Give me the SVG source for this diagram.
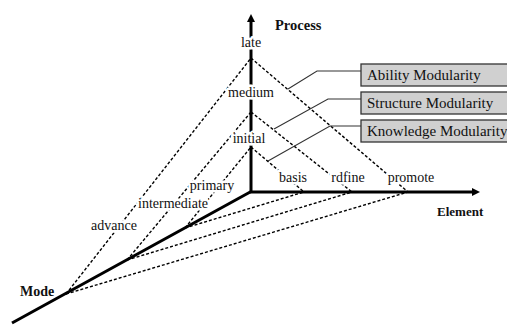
<svg xmlns="http://www.w3.org/2000/svg" width="507" height="325" viewBox="0 0 507 325">
<style>
.dash{stroke:#000;stroke-width:1.4;stroke-dasharray:3 2;fill:none}
.axis{stroke:#000;stroke-width:3;fill:none}
.lead{stroke:#333;stroke-width:1.1;fill:none}
.lbl{font-family:"Liberation Serif",serif;font-size:14px;fill:#111;text-anchor:middle;stroke:#fff;stroke-width:5;paint-order:stroke;stroke-linejoin:round}
.ttl{font-family:"Liberation Serif",serif;font-size:14px;font-weight:bold;fill:#111}
.box{fill:#d0d0d0;stroke:#333;stroke-width:1.3}
.btxt{font-family:"Liberation Serif",serif;font-size:15px;fill:#111}
</style>
<defs>
<marker id="arr" markerWidth="8" markerHeight="8" refX="1" refY="4" orient="auto" markerUnits="userSpaceOnUse">
<path d="M0,0 L8,4 L0,8 Z" fill="#000"/>
</marker>
</defs>
<g id="connectors">
<line class="dash" x1="66" y1="294" x2="251" y2="58"/>
<line class="dash" x1="127" y1="260" x2="251" y2="112"/>
<line class="dash" x1="185" y1="228" x2="251" y2="147"/>
<line class="dash" x1="251" y1="58" x2="408" y2="192"/>
<line class="dash" x1="251" y1="112" x2="352" y2="192"/>
<line class="dash" x1="251" y1="147" x2="304" y2="192"/>
<line class="dash" x1="185" y1="228" x2="304" y2="192"/>
<line class="dash" x1="127" y1="260" x2="352" y2="192"/>
<line class="dash" x1="66" y1="294" x2="408" y2="192"/>
<polyline class="lead" points="361,71 317,71 288,89"/>
<polyline class="lead" points="361,99 328,99 274,129"/>
<polyline class="lead" points="361,126 330,126 268,161"/>
</g>
<g id="axes">
<line class="axis" x1="251" y1="193" x2="251" y2="21" marker-end="url(#arr)"/>
<line class="axis" x1="250" y1="192" x2="473" y2="192" marker-end="url(#arr)"/>
<line class="axis" x1="252" y1="191" x2="12" y2="323"/>
</g>
<g id="process-labels">
<text class="lbl" x="251" y="47">late</text>
<text class="lbl" x="251" y="97">medium</text>
<text class="lbl" x="249" y="143">initial</text>
</g>
<g id="mode-labels">
<text class="lbl" x="212" y="190">primary</text>
<text class="lbl" x="173" y="208">intermediate</text>
<text class="lbl" x="114" y="230">advance</text>
</g>
<g id="element-labels">
<text class="lbl" x="293" y="182">basis</text>
<text class="lbl" x="348" y="182">rdfine</text>
<text class="lbl" x="411" y="182">promote</text>
</g>
<g id="titles">
<text class="ttl" x="275" y="30" style="font-size:14.5px">Process</text>
<text class="ttl" x="437" y="216" style="font-size:13px">Element</text>
<text class="ttl" x="20" y="296">Mode</text>
</g>
<g id="ability">
<rect class="box" x="361" y="64" width="150" height="22"/>
<text class="btxt" x="367" y="80">Ability Modularity</text>
</g>
<g id="structure">
<rect class="box" x="361" y="92" width="150" height="22"/>
<text class="btxt" x="367" y="108">Structure Modularity</text>
</g>
<g id="knowledge">
<rect class="box" x="361" y="120" width="150" height="22"/>
<text class="btxt" x="367" y="136">Knowledge Modularity</text>
</g>
</svg>
